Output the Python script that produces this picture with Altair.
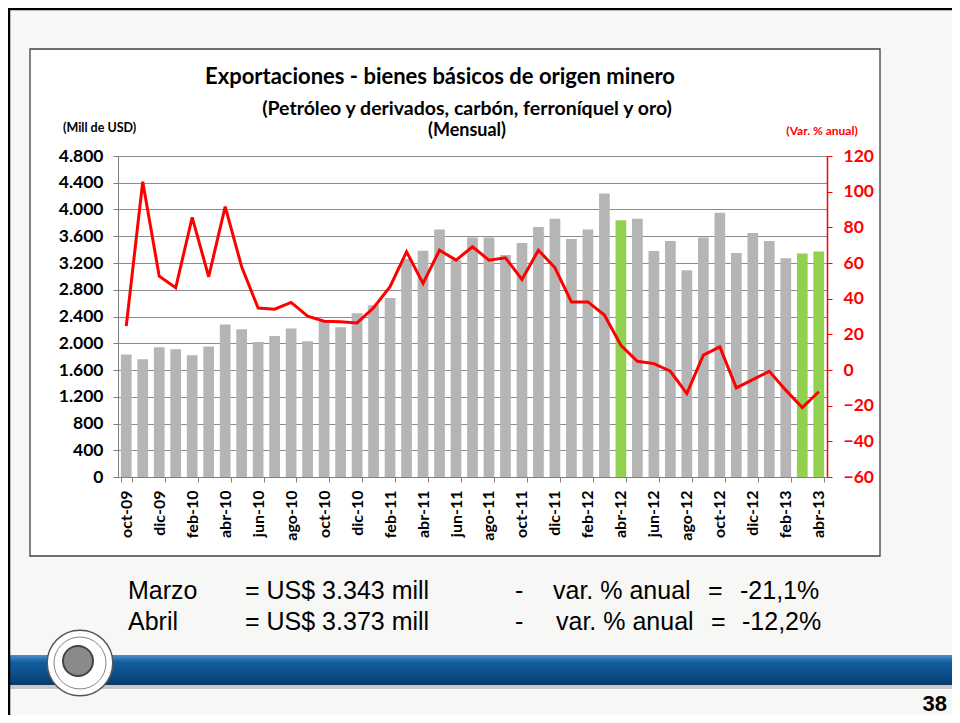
import altair as alt
import pandas as pd

months = ["oct-09", "nov-09", "dic-09",
          "ene-10", "feb-10", "mar-10", "abr-10", "may-10", "jun-10", "jul-10", "ago-10", "sep-10", "oct-10", "nov-10", "dic-10",
          "ene-11", "feb-11", "mar-11", "abr-11", "may-11", "jun-11", "jul-11", "ago-11", "sep-11", "oct-11", "nov-11", "dic-11",
          "ene-12", "feb-12", "mar-12", "abr-12", "may-12", "jun-12", "jul-12", "ago-12", "sep-12", "oct-12", "nov-12", "dic-12",
          "ene-13", "feb-13", "mar-13", "abr-13"]
exports_musd = [1830, 1760, 1940, 1910, 1820, 1950, 2280, 2210, 2020, 2110, 2220, 2030, 2330, 2240, 2450,
                2570, 2675, 3260, 3385, 3700, 3250, 3580, 3580, 3320, 3500, 3740, 3860,
                3560, 3700, 4240, 3840, 3860, 3380, 3530, 3090, 3580, 3950, 3350, 3650,
                3530, 3270, 3343, 3373]
var_anual = [24.6, 105.6, 52.6, 46.1, 85.6, 52.3, 91.6, 57.9, 34.7, 34.1, 37.9, 30.2, 27.4, 27.0, 26.4,
             34.9, 46.7, 66.3, 48.5, 67.2, 61.6, 69.1, 61.6, 62.9, 50.8, 67.2, 57.3,
             38.2, 38.2, 30.8, 13.9, 4.9, 3.6, -0.7, -13.2, 8.3, 13.0, -10.0, -5.4,
             -0.7, -11.3, -21.1, -12.2]
highlight = ["abr-12", "mar-13", "abr-13"]
left_ticks = list(range(0, 4801, 400))
right_ticks = list(range(-60, 121, 20))
x_labels = months[::2]

df = pd.DataFrame({"mes": months, "exp": exports_musd, "var": var_anual})
one = pd.DataFrame({"k": [0]})

FONT = "Lato"
ARIAL = "Liberation Sans"
SLIDE = "#f7f7f5"

x_enc = alt.X("mes:N", sort=months,
              scale=alt.Scale(paddingInner=0.35, paddingOuter=0.175),
              axis=alt.Axis(values=x_labels, labelAngle=-90, labelFont=FONT, labelFontWeight="bold",
                            labelFontSize=16, labelColor="black", tickBand="extent", tickSize=5,
                            domainColor="#7f7f7f", tickColor="#7f7f7f", labelPadding=8, title=None, grid=False))

bars = alt.Chart(df).mark_bar().encode(
    x=x_enc,
    y=alt.Y("exp:Q", scale=alt.Scale(domain=[0, 4800], nice=False),
            axis=alt.Axis(values=left_ticks, labelExpr="replace(format(datum.value, ','), ',', '.')",
                          grid=True, gridColor="#8c8c8c", gridWidth=1, domainColor="#7f7f7f",
                          tickColor="#7f7f7f", tickSize=5, labelFont=FONT, labelFontWeight="bold",
                          labelFontSize=17.5, labelColor="black", labelPadding=10, title=None)),
    color=alt.condition(alt.FieldOneOfPredicate(field="mes", oneOf=highlight),
                        alt.value("#92d050"), alt.value("#b5b5b5")),
)

line = alt.Chart(df).mark_line(color="#ff0000", strokeWidth=3).encode(
    x=alt.X("mes:N", sort=months),
    y=alt.Y("var:Q", scale=alt.Scale(domain=[-60, 120], nice=False),
            axis=alt.Axis(orient="right", values=right_ticks, grid=False, domainColor="#ff0000",
                          domainWidth=1.5, tickColor="#ff0000", tickSize=5, labelFont=FONT,
                          labelFontWeight="bold", labelFontSize=17.5, labelColor="#ff0000",
                          labelPadding=11, title=None)),
)


def rect(x1, x2, y1, y2, **kw):
    return alt.Chart(one).mark_rect(**kw).encode(
        x=alt.value(x1), x2=alt.value(x2), y=alt.value(y1), y2=alt.value(y2))


def label(text, x, y, size, weight="bold", color="black", align="left", font=FONT, baseline="middle"):
    return alt.Chart(one).mark_text(text=text, fontSize=size, fontWeight=weight, color=color,
                                    align=align, font=font, baseline=baseline).encode(
        x=alt.value(x), y=alt.value(y))


def foot(text, x, y):
    return label(text, x, y, 25, weight="normal", font=ARIAL, baseline="alphabetic")


# slide background around the chart box (coordinates relative to plot area)
bg = [
    rect(-110, 834, -148, -107, color=SLIDE),
    rect(-110, 834, 400, 559, color=SLIDE),
    rect(-110, -88, -107, 400, color=SLIDE),
    rect(762, 834, -107, 400, color=SLIDE),
]
box = rect(-88, 762, -107, 400, fill=None, stroke="#404040", strokeWidth=1.3, filled=False)
slide_border = rect(-109, 845, -147, 575, fill=None, stroke="black", strokeWidth=2.5, filled=False)

band = rect(-110, 834, 499, 529, color=alt.LinearGradient(
    gradient="linear", x1=0, x2=0, y1=0, y2=1,
    stops=[alt.GradientStop(color="#4f8fca", offset=0),
           alt.GradientStop(color="#0f5d9e", offset=0.25),
           alt.GradientStop(color="#0b4c86", offset=0.7),
           alt.GradientStop(color="#0a3866", offset=1)]))
shadow = rect(-110, 834, 529, 533, color="#c8c8c8")

logo_outer = alt.Chart(one).mark_point(shape="circle", filled=True, fill="white", stroke="#555555",
                                       strokeWidth=1.5, size=4300, opacity=1).encode(
    x=alt.value(-38), y=alt.value(507))
logo_ring = alt.Chart(one).mark_point(shape="circle", filled=False, stroke="#555555",
                                      strokeWidth=1, size=2700).encode(x=alt.value(-38), y=alt.value(507))
logo_inner = alt.Chart(one).mark_point(shape="circle", filled=True, fill="#8a8a8a", stroke="#444444",
                                       size=900, opacity=1).encode(x=alt.value(-40), y=alt.value(505))

texts = [
    label("Exportaciones - bienes básicos de origen minero", 322, -79, 22, align="center"),
    label("(Petróleo y derivados, carbón, ferroníquel y oro)", 349, -47, 19.5, align="center"),
    label("(Mensual)", 349, -25, 18, align="center"),
    label("(Mill de USD)", -55, -28, 12.5),
    label("(Var. % anual)", 704, -25, 12, color="#ff0000", align="center"),
    foot("Marzo", 10, 443),
    foot("= US$ 3.343 mill", 127, 443),
    foot("-", 397, 443),
    foot("var. % anual", 435, 443),
    foot("=", 590, 443),
    foot("-21,1%", 622, 443),
    foot("Abril", 10, 474),
    foot("= US$ 3.373 mill", 127, 474),
    foot("-", 397, 474),
    foot("var. % anual", 438, 474),
    foot("=", 593, 474),
    foot("-12,2%", 624, 474),
    label("38", 829, 555, 22, font=ARIAL, align="right", baseline="alphabetic"),
]

chart = alt.layer(
    *bg, bars, line, box, shadow, band, logo_outer, logo_ring, logo_inner, *texts, slide_border
).resolve_scale(y="independent").properties(
    width=709, height=321,
    autosize=alt.AutoSizeParams(type="none"),
    padding={"left": 110, "top": 148, "right": 125, "bottom": 238},
    background="white",
).configure_view(stroke=None)

chart.save("out.html", embed_options={"renderer": "svg", "actions": False})
